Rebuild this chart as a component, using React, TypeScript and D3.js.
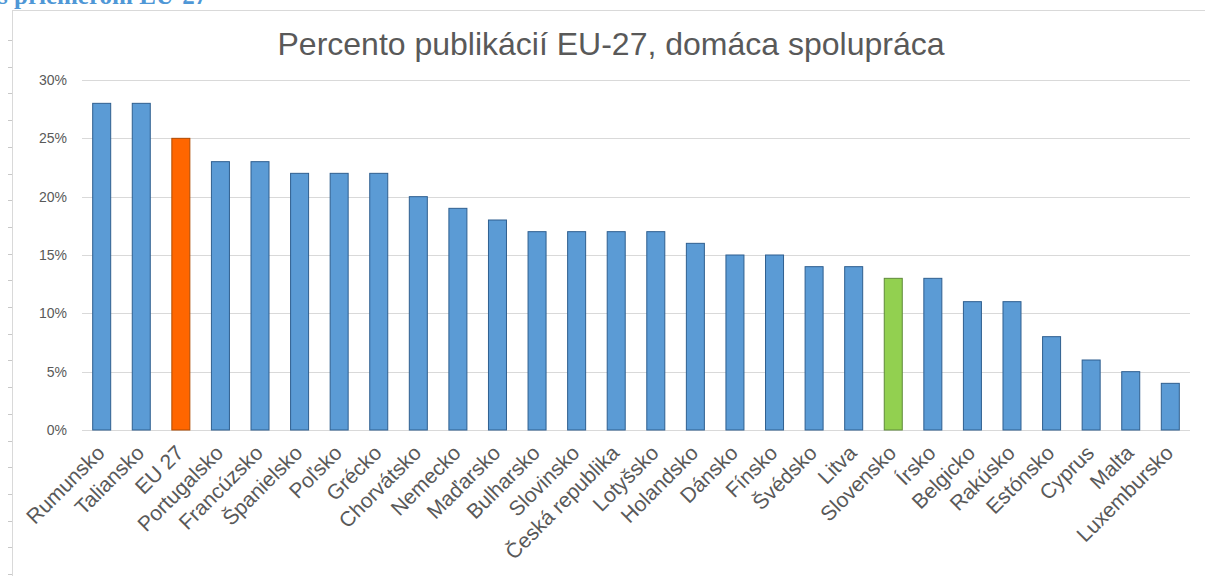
import React, { useEffect, useRef } from 'react';
import * as d3 from 'd3';

const countries = [
  'Rumunsko', 'Taliansko', 'EU 27', 'Portugalsko', 'Francúzsko', 'Španielsko', 'Poľsko',
  'Grécko', 'Chorvátsko', 'Nemecko', 'Maďarsko', 'Bulharsko', 'Slovinsko', 'Česká republika',
  'Lotyšsko', 'Holandsko', 'Dánsko', 'Fínsko', 'Švédsko', 'Litva', 'Slovensko', 'Írsko',
  'Belgicko', 'Rakúsko', 'Estónsko', 'Cyprus', 'Malta', 'Luxembursko',
];
const shares = [
  0.28, 0.28, 0.25, 0.23, 0.23, 0.22, 0.22, 0.22, 0.20, 0.19, 0.18, 0.17, 0.17, 0.17,
  0.17, 0.16, 0.15, 0.15, 0.14, 0.14, 0.13, 0.13, 0.11, 0.11, 0.08, 0.06, 0.05, 0.04,
];
const yTicks = [0, 0.05, 0.1, 0.15, 0.2, 0.25, 0.3];
const highlight: Record<string, string> = { 'EU 27': '#ff6600', 'Slovensko': '#92d050' };

const W = 1205;
const H = 576;

const App: React.FC = () => {
  const svgRef = useRef<SVGSVGElement>(null);

  useEffect(() => {
    document.body.style.margin = '0';
    if (!svgRef.current) return;
    const svg = d3.select(svgRef.current);
    svg.selectAll('*').remove();

    const font = "'Liberation Sans', Arial, sans-serif";

    // page heading cut off at the top
    svg.append('text')
      .attr('x', -2).attr('y', 4)
      .style('font-family', "'Liberation Serif', 'Times New Roman', serif")
      .style('font-weight', 'bold')
      .style('font-size', '25px')
      .attr('fill', '#4f97d6')
      .text('s priemerom EU-27');

    // chart frame
    svg.append('line').attr('x1', 12).attr('x2', W).attr('y1', 10.5).attr('y2', 10.5)
      .attr('stroke', '#d9d9d9');
    svg.append('line').attr('x1', 12.5).attr('x2', 12.5).attr('y1', 10).attr('y2', H)
      .attr('stroke', '#d9d9d9');
    svg.selectAll('.ftick').data(d3.range(40, H, 26.7)).enter().append('line')
      .attr('x1', 8).attr('x2', 12).attr('y1', d => Math.round(d) + 0.5).attr('y2', d => Math.round(d) + 0.5)
      .attr('stroke', '#c8c8c8');

    const x = d3.scaleBand<string>().domain(countries).range([82, 1190])
      .paddingInner(0.545).paddingOuter(0.27);
    const y = d3.scaleLinear().domain([0, 0.3]).range([430, 80]);

    // gridlines
    svg.selectAll('.grid').data(yTicks).enter().append('line')
      .attr('x1', 82).attr('x2', 1190)
      .attr('y1', d => Math.round(y(d)) + 0.5).attr('y2', d => Math.round(y(d)) + 0.5)
      .attr('stroke', '#d9d9d9').attr('stroke-width', 1);

    svg.selectAll('.ylab').data(yTicks).enter().append('text')
      .attr('x', 67).attr('y', d => y(d)).attr('dy', '0.35em')
      .attr('text-anchor', 'end')
      .style('font-family', font).style('font-size', '14px')
      .attr('fill', '#595959')
      .text(d => d3.format('.0%')(d));

    // bars
    svg.selectAll('.bar').data(countries).enter().append('rect')
      .attr('x', d => x(d)!)
      .attr('y', (d, i) => y(shares[i]))
      .attr('width', x.bandwidth())
      .attr('height', (d, i) => y(0) - y(shares[i]))
      .attr('fill', d => highlight[d] || '#5b9bd5')
      .attr('stroke', d => (highlight[d] ? (d === 'EU 27' ? '#b04a00' : '#5f8a3a') : '#2f5f8f'))
      .attr('stroke-width', 1);

    // x labels
    svg.selectAll('.xlab').data(countries).enter().append('text')
      .attr('transform', d => `translate(${x(d)! + x.bandwidth() / 2 - 1},${449}) rotate(-45)`)
      .attr('dy', '0.35em')
      .attr('text-anchor', 'end')
      .style('font-family', font).style('font-size', '21px')
      .attr('fill', '#595959')
      .text(d => d);

    // title
    svg.append('text')
      .attr('x', 611).attr('y', 55)
      .attr('text-anchor', 'middle')
      .style('font-family', font).style('font-size', '32px')
      .attr('fill', '#595959')
      .text('Percento publikácií EU-27, domáca spolupráca');
  }, []);

  return <svg ref={svgRef} width={W} height={H} style={{ display: 'block', background: '#fff' }}></svg>;
};

export default App;
